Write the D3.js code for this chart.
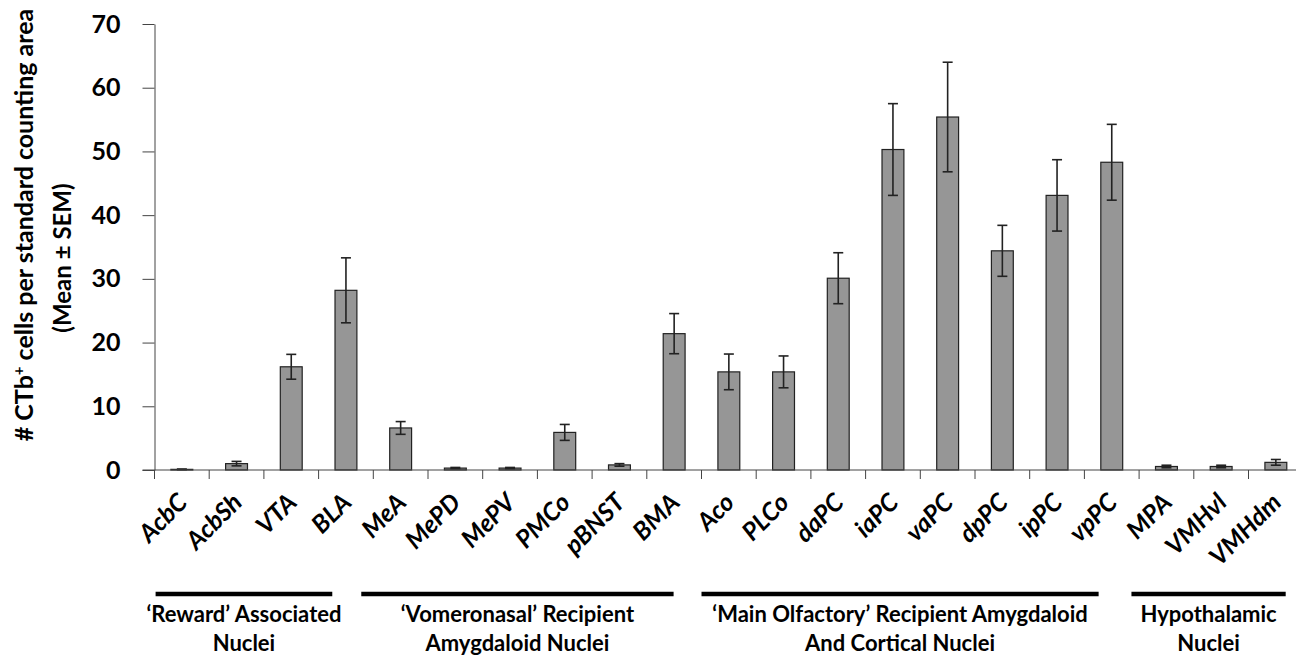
<!DOCTYPE html>
<html>
<head>
<meta charset="utf-8">
<script src="https://cdn.jsdelivr.net/npm/d3@7"></script>
<style>
  html, body { margin: 0; padding: 0; background: #fff; }
  svg { display: block; }
  text { font-family: Lato, "Open Sans", sans-serif; fill: #000; }
</style>
</head>
<body>
<svg id="chart" width="1296" height="655"></svg>
<script>
// ---- data ----
const categories = ["AcbC","AcbSh","VTA","BLA","MeA","MePD","MePV","PMCo","pBNST","BMA",
                    "Aco","PLCo","daPC","iaPC","vaPC","dpPC","ipPC","vpPC","MPA","VMHvl","VMHdm"];
const means = [0.1, 1.0, 16.2, 28.2, 6.6, 0.3, 0.3, 5.9, 0.8, 21.4,
               15.4, 15.4, 30.1, 50.3, 55.4, 34.4, 43.1, 48.3, 0.55, 0.55, 1.2];
const sems  = [0.05, 0.35, 1.95, 5.1, 1.0, 0.1, 0.1, 1.25, 0.2, 3.15,
               2.8, 2.5, 4.0, 7.2, 8.6, 4.0, 5.6, 5.95, 0.2, 0.2, 0.45];
const yTicks = [0, 10, 20, 30, 40, 50, 60, 70];
const groupLine1 = ["\u2018Reward\u2019 Associated", "\u2018Vomeronasal\u2019 Recipient",
                    "\u2018Main Olfactory\u2019 Recipient Amygdaloid", "Hypothalamic"];
const groupLine2 = ["Nuclei", "Amygdaloid Nuclei", "And Cortical Nuclei", "Nuclei"];

// ---- layout ----
const svg = d3.select("#chart");
const plotLeft = 154.5, plotBottom = 470, plotTop = 24;
const stepPx = 54.7;
const plotRight = plotLeft + stepPx * categories.length;

const x = d3.scaleBand().domain(categories).range([plotLeft, plotRight])
  .paddingInner(0.6).paddingOuter(0.3);
const y = d3.scaleLinear().domain([0, 70]).range([plotBottom, plotTop]);

const axisColor = "#444";

// bars
svg.append("g").selectAll("rect").data(categories).join("rect")
  .attr("x", d => x(d))
  .attr("y", (d, i) => y(means[i]))
  .attr("width", x.bandwidth())
  .attr("height", (d, i) => y(0) - y(means[i]))
  .attr("fill", "#969696")
  .attr("stroke", "#222")
  .attr("stroke-width", 1.2);

// error bars
const eb = svg.append("g").attr("stroke", "#222").attr("stroke-width", 1.6);
categories.forEach((c, i) => {
  const cx = x(c) + x.bandwidth() / 2;
  const y1 = y(means[i] + sems[i]), y2 = y(means[i] - sems[i]);
  eb.append("line").attr("x1", cx).attr("x2", cx).attr("y1", y1).attr("y2", y2);
  eb.append("line").attr("x1", cx - 5).attr("x2", cx + 5).attr("y1", y1).attr("y2", y1);
  eb.append("line").attr("x1", cx - 5).attr("x2", cx + 5).attr("y1", y2).attr("y2", y2);
});

// y axis
const yAxis = svg.append("g").attr("transform", `translate(${plotLeft},0)`)
  .call(d3.axisLeft(y).tickValues(yTicks).tickSize(12).tickSizeOuter(0).tickPadding(22));
yAxis.select(".domain").attr("stroke", axisColor);
yAxis.selectAll(".tick line").attr("stroke", axisColor);
yAxis.selectAll(".tick text")
  .style("font-family", "Lato, sans-serif").style("font-weight", "bold")
  .style("font-size", "25px").attr("fill", "#000");

// x axis line (extends to zero tick) + boundary ticks
svg.append("line").attr("x1", plotLeft - 12).attr("x2", plotRight).attr("y1", y(0)).attr("y2", y(0))
  .attr("stroke", axisColor).attr("stroke-width", 1);
svg.append("g").selectAll("line").data(d3.range(categories.length + 1)).join("line")
  .attr("x1", i => x.range()[0] + i * x.step())
  .attr("x2", i => x.range()[0] + i * x.step())
  .attr("y1", y(0)).attr("y2", y(0) + 9)
  .attr("stroke", axisColor).attr("stroke-width", 1);

// x labels (axis for placement, rotated labels in nested groups)
const xAxis = svg.append("g").attr("transform", `translate(0,${plotBottom})`)
  .call(d3.axisBottom(x).tickSize(0).tickFormat(""));
xAxis.select(".domain").remove();
xAxis.selectAll(".tick").each(function(d) {
  d3.select(this).select("text").remove();
  d3.select(this).append("g")
    .attr("transform", "translate(7,34) rotate(-45)")
    .append("text")
    .attr("text-anchor", "end")
    .style("font-family", "Lato, sans-serif").style("font-weight", "bold")
    .style("font-style", "italic").style("font-size", "25px")
    .attr("fill", "#000")
    .text(d);
});

// group brackets
const groupSpan = [[0.02, 3.25], [3.78, 9.49], [10.0, 17.26], [17.86, 20.68]];
groupLine1.forEach((g, k) => {
  const x1 = x.range()[0] + groupSpan[k][0] * x.step();
  const x2 = x.range()[0] + groupSpan[k][1] * x.step();
  const mid = (x1 + x2) / 2;
  svg.append("line").attr("x1", x1).attr("x2", x2).attr("y1", 594).attr("y2", 594)
    .attr("stroke", "#000").attr("stroke-width", 4.5);
  svg.append("text").attr("x", mid).attr("y", 622).attr("text-anchor", "middle")
    .style("font-weight", "bold").style("font-size", "22px").text(g);
  svg.append("text").attr("x", mid).attr("y", 651).attr("text-anchor", "middle")
    .style("font-weight", "bold").style("font-size", "22px").text(groupLine2[k]);
});

// y title
const t1 = svg.append("text").attr("transform", "translate(33,225) rotate(-90)")
  .attr("text-anchor", "middle").style("font-weight", "bold").style("font-size", "25px");
t1.append("tspan").text("# CTb");
t1.append("tspan").text("+").attr("baseline-shift", "super").style("font-size", "15px");
t1.append("tspan").text(" cells per standard counting area");
const t2 = svg.append("text").attr("transform", "translate(71,258) rotate(-90)")
  .attr("text-anchor", "middle").style("font-weight", "bold").style("font-size", "24px")
  .text("(Mean \u00B1 SEM)");
</script>
</body>
</html>
